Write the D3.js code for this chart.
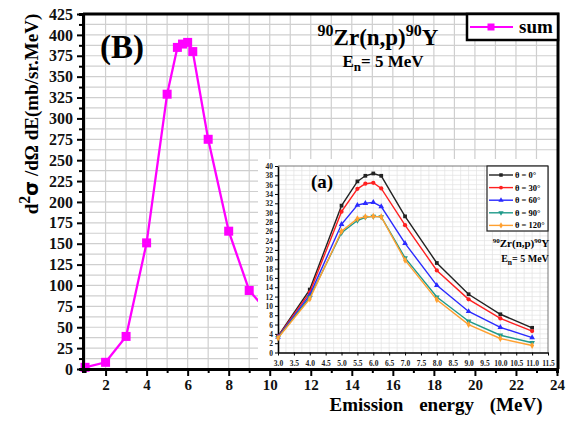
<!DOCTYPE html>
<html lang="en">
<head>
<meta charset="UTF-8">
<title>90Zr(n,p)90Y</title>
<script src="https://d3js.org/d3.v7.min.js"></script>
<style>
    body { margin: 0; background: #fff; }
    svg { display: block; }
    svg text { font-family: "Liberation Serif", "DejaVu Serif", serif; font-weight: bold; }
</style>
</head>
<body>
<script>
// main chart: summed spectrum
const sumEnergy = [1, 2, 3, 4, 5, 5.5, 5.75, 6, 6.25, 7, 8, 9, 10];
const sumValue = [2, 8, 39, 151, 329, 385, 389, 391, 380, 275, 165, 94, 66];
const mainXTicks = [2, 4, 6, 8, 10, 12, 14, 16, 18, 20, 22, 24];
const mainYTicks = d3.range(0, 426, 25);

// inset (a): angular spectra
const insetEnergy = [3.0, 4.0, 5.0, 5.5, 5.75, 6.0, 6.25, 7.0, 8.0, 9.0, 10.0, 11.0];
const deg0 = [3.5, 13.5, 31.5, 36.7, 37.9, 38.4, 37.9, 29.2, 19.2, 12.5, 8.2, 5.3];
const deg30 = [3.4, 12.9, 30.2, 35.1, 36.2, 36.4, 35.2, 27.3, 17.6, 11.4, 7.3, 4.6];
const deg60 = [3.3, 12.3, 27.5, 31.6, 32.0, 32.2, 31.3, 23.4, 14.4, 8.8, 5.4, 3.2];
const deg90 = [3.2, 11.8, 25.7, 28.3, 29.0, 29.2, 29.1, 20.3, 11.9, 6.7, 3.7, 2.1];
const deg120 = [3.1, 11.5, 26.0, 28.7, 29.1, 29.2, 29.1, 19.8, 11.3, 6.0, 3.0, 1.5];
const angleLabels = ["θ = 0°", "θ = 30°", "θ = 60°", "θ = 90°", "θ = 120°"];
const insetXTicks = d3.range(3, 11.51, 0.5);
const insetYTicks = d3.range(0, 41, 2);

const w = 571, h = 421;
const svg = d3.select("body").append("svg").attr("width", w).attr("height", h);

// scales
const x = d3.scaleLinear().domain([0.9, 24]).range([83, 557]);
const y = d3.scaleLinear().domain([0, 425]).range([369, 14]);

// grid
svg.append("g").selectAll("line")
    .data(d3.range(1, 24))
    .enter().append("line")
    .attr("x1", d => x(d)).attr("x2", d => x(d))
    .attr("y1", y(0)).attr("y2", y(425))
    .attr("stroke", "#cfcfcf").attr("stroke-width", 1.2);
svg.append("g").selectAll("line")
    .data(d3.range(12.5, 425, 12.5))
    .enter().append("line")
    .attr("x1", x(0.9)).attr("x2", x(24))
    .attr("y1", d => y(d)).attr("y2", d => y(d))
    .attr("stroke", "#cfcfcf").attr("stroke-width", 1.2);

// sum line
svg.append("path")
    .datum(sumEnergy.map((e, i) => [e, sumValue[i]]))
    .attr("fill", "none")
    .attr("stroke", "#ff00ff")
    .attr("stroke-width", 2.3)
    .attr("d", d3.line().x(d => x(d[0])).y(d => y(d[1])));
svg.append("g").selectAll("rect")
    .data(sumEnergy)
    .enter().append("rect")
    .attr("x", (d, i) => x(sumEnergy[i]) - 4.5)
    .attr("y", (d, i) => y(sumValue[i]) - 4.5)
    .attr("width", 9).attr("height", 9)
    .attr("fill", "#ff00ff");

// ---------- inset ----------
const ix = d3.scaleLinear().domain([3, 11.5]).range([278, 548]);
const iy = d3.scaleLinear().domain([0, 40]).range([352.5, 166]);

svg.append("rect")
    .attr("x", 258).attr("y", 159)
    .attr("width", 300).attr("height", 209)
    .attr("fill", "#fff");

svg.append("g").selectAll("line")
    .data(d3.range(3.25, 11.5, 0.25))
    .enter().append("line")
    .attr("x1", d => ix(d)).attr("x2", d => ix(d))
    .attr("y1", iy(0)).attr("y2", iy(40))
    .attr("stroke", "#e2e2e2").attr("stroke-width", 0.7);
svg.append("g").selectAll("line")
    .data(d3.range(1, 40))
    .enter().append("line")
    .attr("x1", ix(3)).attr("x2", ix(11.5))
    .attr("y1", d => iy(d)).attr("y2", d => iy(d))
    .attr("stroke", "#e2e2e2").attr("stroke-width", 0.7);

// inset frame top / right
svg.append("path")
    .attr("d", `M${ix(3)},${iy(40)}H${ix(11.5)}V${iy(0)}`)
    .attr("fill", "none").attr("stroke", "#555").attr("stroke-width", 0.8);

const iXAxis = svg.append("g")
    .attr("transform", `translate(0,${iy(0)})`)
    .call(d3.axisBottom(ix).tickValues(insetXTicks).tickFormat(d3.format(".1f")).tickSize(3).tickSizeOuter(0));
const iYAxis = svg.append("g")
    .attr("transform", `translate(${ix(3)},0)`)
    .call(d3.axisLeft(iy).tickValues(insetYTicks).tickFormat(d3.format("d")).tickSize(3).tickSizeOuter(0));
[iXAxis, iYAxis].forEach(a => {
    a.select(".domain").attr("stroke", "#000").attr("stroke-width", 1.6);
    a.selectAll(".tick line").attr("stroke", "#000").attr("stroke-width", 1);
    a.selectAll("text").style("font-size", "7.5px").attr("fill", "#222");
});
iXAxis.selectAll("text").attr("dy", "1.05em");
iYAxis.selectAll("text").attr("x", -5).attr("dy", "0.34em");

const series = [deg0, deg30, deg60, deg90, deg120];
const colors = ["#222222", "#ff2020", "#2a2aff", "#1f9a8a", "#ffa030"];
const symbols = [d3.symbolSquare, d3.symbolCircle, d3.symbolTriangle, d3.symbolTriangle, d3.symbolDiamond];
const lineI = d3.line().x(d => ix(d[0])).y(d => iy(d[1]));

series.forEach((s, k) => {
    svg.append("path")
        .datum(insetEnergy.map((e, i) => [e, s[i]]))
        .attr("fill", "none")
        .attr("stroke", colors[k])
        .attr("stroke-width", 1.4)
        .attr("d", lineI);
    svg.append("g").selectAll("path")
        .data(s)
        .enter().append("path")
        .attr("d", d3.symbol().type(symbols[k]).size(14))
        .attr("transform", (d, i) => `translate(${ix(insetEnergy[i])},${iy(d)})` + (k === 3 ? " rotate(180)" : ""))
        .attr("fill", colors[k]);
});

// inset legend
svg.append("rect")
    .attr("x", 487).attr("y", 166)
    .attr("width", 61).attr("height", 65)
    .attr("fill", "#fff").attr("stroke", "#222").attr("stroke-width", 1.2);
angleLabels.forEach((lab, k) => {
    const ly = 175 + k * 12.6;
    svg.append("line")
        .attr("x1", 489).attr("x2", 513)
        .attr("y1", ly).attr("y2", ly)
        .attr("stroke", colors[k]).attr("stroke-width", 1.4);
    svg.append("path")
        .attr("d", d3.symbol().type(symbols[k]).size(12))
        .attr("transform", `translate(501,${ly})` + (k === 3 ? " rotate(180)" : ""))
        .attr("fill", colors[k]);
    svg.append("text")
        .attr("x", 515).attr("y", ly + 3)
        .style("font-size", "8.5px")
        .text(lab);
});

// inset titles
const insetTitle = svg.append("text")
    .attr("x", 521).attr("y", 247)
    .attr("text-anchor", "middle")
    .style("font-size", "11px");
insetTitle.append("tspan").style("font-size", "7px").attr("dy", -4).text("90");
insetTitle.append("tspan").attr("dy", 4).text("Zr(n,p)");
insetTitle.append("tspan").style("font-size", "7px").attr("dy", -4).text("90");
insetTitle.append("tspan").attr("dy", 4).text("Y");

const insetEn = svg.append("text")
    .attr("x", 525).attr("y", 262)
    .attr("text-anchor", "middle")
    .style("font-size", "10px");
insetEn.append("tspan").text("E");
insetEn.append("tspan").style("font-size", "7.5px").attr("dy", 2.5).text("n");
insetEn.append("tspan").attr("dy", -2.5).text("= 5 MeV");

svg.append("text")
    .attr("x", 311).attr("y", 188)
    .style("font-size", "19px")
    .text("(a)");

// ---------- main axes ----------
const xAxis = svg.append("g")
    .attr("transform", `translate(0,${y(0)})`)
    .call(d3.axisBottom(x).tickValues(mainXTicks).tickSize(7).tickSizeOuter(0));
const xMinor = svg.append("g")
    .attr("transform", `translate(0,${y(0)})`)
    .call(d3.axisBottom(x).tickValues(d3.range(1, 24, 2)).tickSize(4).tickFormat(""));
const yAxis = svg.append("g")
    .attr("transform", `translate(${x(0.9)},0)`)
    .call(d3.axisLeft(y).tickValues(mainYTicks).tickSize(6).tickSizeOuter(0));
const yMinor = svg.append("g")
    .attr("transform", `translate(${x(0.9)},0)`)
    .call(d3.axisLeft(y).tickValues(d3.range(12.5, 425, 25)).tickSize(4).tickFormat(""));
[xAxis, xMinor, yAxis, yMinor].forEach(a => {
    a.select(".domain").attr("stroke", "#000").attr("stroke-width", 3);
    a.selectAll(".tick line").attr("stroke", "#000").attr("stroke-width", 2);
    a.selectAll("text").style("font-size", "16px").attr("fill", "#111");
});
xAxis.selectAll("text").style("font-size", "15px").attr("y", 10).attr("dy", "0.71em");
yAxis.selectAll("text").attr("x", -10);

// top and right border
svg.append("path")
    .attr("d", `M${x(0.9)},${y(425)}H558V${y(0)}`)
    .attr("fill", "none").attr("stroke", "#000").attr("stroke-width", 3);

// main legend
svg.append("rect")
    .attr("x", 467).attr("y", 14)
    .attr("width", 91).attr("height", 26)
    .attr("fill", "#fff").attr("stroke", "#000").attr("stroke-width", 2.5);
svg.append("line")
    .attr("x1", 470).attr("x2", 513).attr("y1", 27).attr("y2", 27)
    .attr("stroke", "#ff00ff").attr("stroke-width", 2);
svg.append("rect")
    .attr("x", 487.5).attr("y", 23.5).attr("width", 7).attr("height", 7)
    .attr("fill", "#ff00ff");
svg.append("text")
    .attr("x", 519).attr("y", 33)
    .style("font-size", "19px")
    .text("sum");

// title
const title = svg.append("text")
    .attr("x", 378).attr("y", 45)
    .attr("text-anchor", "middle")
    .style("font-size", "23px");
title.append("tspan").style("font-size", "16px").attr("dy", -9).text("90");
title.append("tspan").attr("dy", 9).text("Zr(n,p)");
title.append("tspan").style("font-size", "16px").attr("dy", -9).text("90");
title.append("tspan").attr("dy", 9).text("Y");

const en = svg.append("text")
    .attr("x", 383).attr("y", 67)
    .attr("text-anchor", "middle")
    .style("font-size", "17px");
en.append("tspan").text("E");
en.append("tspan").style("font-size", "13px").attr("dy", 4).text("n");
en.append("tspan").attr("dy", -4).text("= 5 MeV");

svg.append("text")
    .attr("x", 100).attr("y", 58)
    .style("font-size", "33px")
    .text("(B)");

// axis titles
svg.append("text")
    .attr("x", 436).attr("y", 411)
    .attr("text-anchor", "middle")
    .style("font-size", "19px")
    .style("word-spacing", "11px")
    .text("Emission energy (MeV)");

const yTitle = svg.append("text")
    .attr("transform", "translate(38,114) rotate(-90)")
    .attr("text-anchor", "middle")
    .style("font-size", "19px");
yTitle.append("tspan").text("d");
yTitle.append("tspan").style("font-size", "16px").attr("dy", -8).text("2");
yTitle.append("tspan").attr("dy", 8).style("font-family", "DejaVu Sans").text("σ");
yTitle.append("tspan").text(" /dΩ dE(mb/sr.MeV)");
</script>
</body>
</html>
